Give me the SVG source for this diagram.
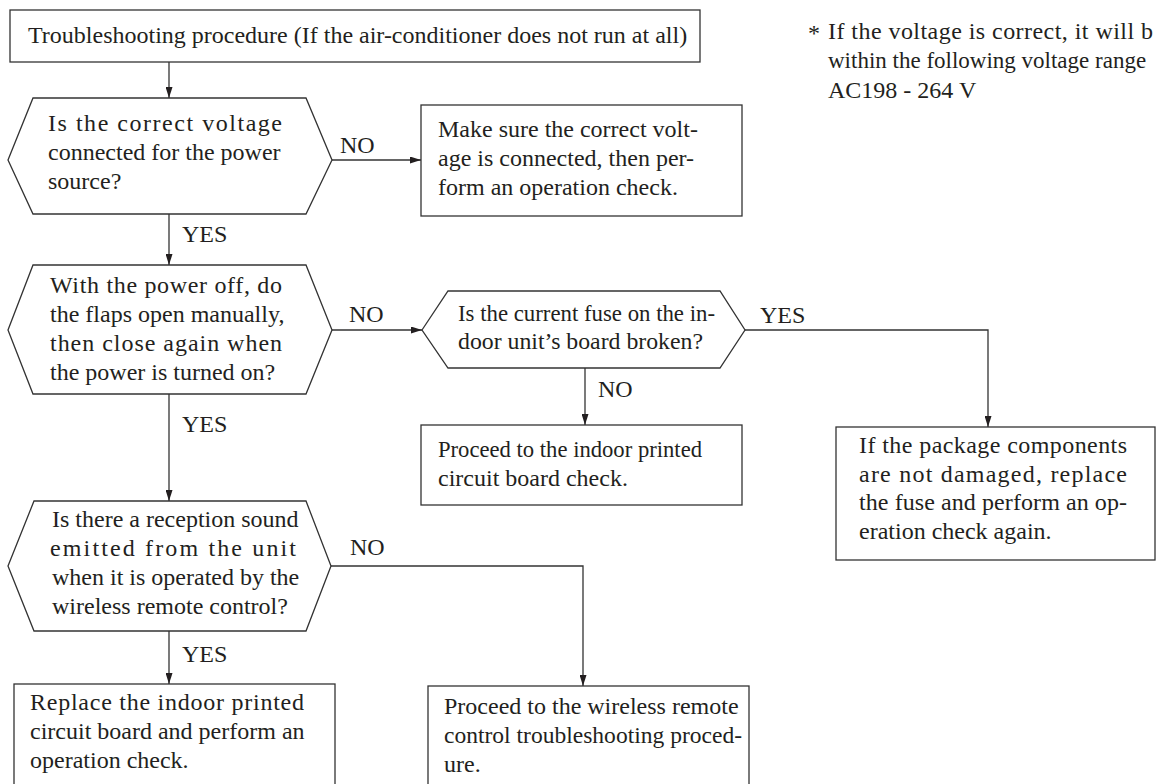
<svg xmlns="http://www.w3.org/2000/svg" width="1157" height="784" viewBox="0 0 1157 784">
<defs>
<marker id="ah" viewBox="0 0 11 7" refX="11" refY="3.5" markerWidth="11" markerHeight="7" markerUnits="userSpaceOnUse" orient="auto">
<path d="M0,0 L11,3.5 L0,7 z" fill="#231f20"/>
</marker>
<style>
.t{font-family:"Liberation Serif","Times New Roman",serif;font-size:24px;fill:#231f20}
.s{fill:#fff;stroke:#333;stroke-width:1.3}
.c{fill:none;stroke:#333;stroke-width:1.3;marker-end:url(#ah)}
</style>
</defs>
<rect width="1157" height="784" fill="#fff"/>

<g id="title">
<rect class="s" x="10" y="10" width="690" height="52"/>
<text class="t" x="28" y="43">Troubleshooting procedure (If the air-conditioner does not run at all)</text>
</g>

<g id="note">
<text class="t" x="808" y="41">*</text>
<text class="t" x="828" y="39" textLength="325" lengthAdjust="spacing">If the voltage is correct, it will b</text>
<text class="t" x="828" y="68" style="font-size:23px">within the following voltage range</text>
<text class="t" x="828" y="98">AC198 - 264 V</text>
</g>

<g id="q1">
<polygon class="s" points="8,160 33,98 306,98 332,160 306,214 33,214"/>
<text class="t" x="48" y="131" textLength="234" lengthAdjust="spacing">Is the correct voltage</text>
<text class="t" x="48" y="160">connected for the power</text>
<text class="t" x="48" y="189">source?</text>
</g>

<g id="a1">
<rect class="s" x="421" y="105" width="321" height="111"/>
<text class="t" x="438" y="137">Make sure the correct volt-</text>
<text class="t" x="438" y="166">age is connected, then per-</text>
<text class="t" x="438" y="195">form an operation check.</text>
</g>

<g id="q2">
<polygon class="s" points="8,330 33,265 306,265 332,330 306,394 33,394"/>
<text class="t" x="50" y="293" textLength="232" lengthAdjust="spacing">With the power off, do</text>
<text class="t" x="50" y="322">the flaps open manually,</text>
<text class="t" x="50" y="351" textLength="232" lengthAdjust="spacing">then close again when</text>
<text class="t" x="50" y="380">the power is turned on?</text>
</g>

<g id="q3">
<polygon class="s" points="422,330 448,291 720,291 745,330 720,368 448,368"/>
<text class="t" x="458" y="321" textLength="257" lengthAdjust="spacingAndGlyphs">Is the current fuse on the in-</text>
<text class="t" x="458" y="349" textLength="245" lengthAdjust="spacingAndGlyphs">door unit’s board broken?</text>
</g>

<g id="a3">
<rect class="s" x="836" y="427" width="319" height="133"/>
<text class="t" x="859" y="453" textLength="268" lengthAdjust="spacing">If the package components</text>
<text class="t" x="859" y="482" textLength="268" lengthAdjust="spacing">are not damaged, replace</text>
<text class="t" x="859" y="510" textLength="268" lengthAdjust="spacing">the fuse and perform an op-</text>
<text class="t" x="859" y="539">eration check again.</text>
</g>

<g id="a2">
<rect class="s" x="421" y="425" width="321" height="80"/>
<text class="t" x="438" y="457" textLength="264" lengthAdjust="spacingAndGlyphs">Proceed to the indoor printed</text>
<text class="t" x="438" y="486">circuit board check.</text>
</g>

<g id="q4">
<polygon class="s" points="8,566 34,501 306,501 331,566 306,631 34,631"/>
<text class="t" x="52" y="527">Is there a reception sound</text>
<text class="t" x="50" y="556" textLength="246" lengthAdjust="spacing">emitted from the unit</text>
<text class="t" x="52" y="585">when it is operated by the</text>
<text class="t" x="52" y="614">wireless remote control?</text>
</g>

<g id="a4">
<rect class="s" x="14" y="684" width="321" height="120"/>
<text class="t" x="30" y="710" textLength="274" lengthAdjust="spacing">Replace the indoor printed</text>
<text class="t" x="30" y="739">circuit board and perform an</text>
<text class="t" x="30" y="768">operation check.</text>
</g>

<g id="a5">
<rect class="s" x="428" y="686" width="321" height="120"/>
<text class="t" x="444" y="714">Proceed to the wireless remote</text>
<text class="t" x="444" y="743" textLength="298" lengthAdjust="spacingAndGlyphs">control troubleshooting proced-</text>
<text class="t" x="444" y="772">ure.</text>
</g>

<g id="connectors">
<line class="c" x1="169" y1="62" x2="169" y2="98"/>
<line class="c" x1="332" y1="160" x2="421" y2="160"/>
<line class="c" x1="169" y1="214" x2="169" y2="265"/>
<line class="c" x1="332" y1="330" x2="422" y2="330"/>
<polyline class="c" points="745,330 988,330 988,427"/>
<line class="c" x1="585" y1="368" x2="585" y2="425"/>
<line class="c" x1="169" y1="394" x2="169" y2="501"/>
<polyline class="c" points="331,566 583,566 583,686"/>
<line class="c" x1="169" y1="631" x2="169" y2="684"/>
</g>

<g id="labels">
<text class="t" x="340" y="153">NO</text>
<text class="t" x="182" y="242">YES</text>
<text class="t" x="349" y="322">NO</text>
<text class="t" x="760" y="323">YES</text>
<text class="t" x="598" y="397">NO</text>
<text class="t" x="182" y="432">YES</text>
<text class="t" x="350" y="555">NO</text>
<text class="t" x="182" y="662">YES</text>
</g>
</svg>
